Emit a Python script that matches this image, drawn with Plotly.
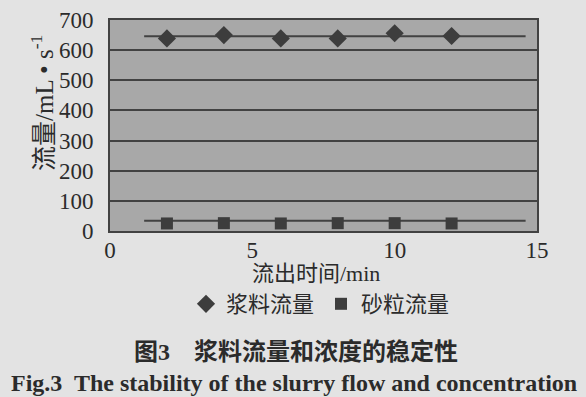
import plotly.graph_objects as go

# Data
time_min = [2, 4, 6, 8, 10, 12]
slurry_flow = [639, 650, 639, 639, 656, 647]
sand_flow = [25, 26, 25, 26, 26, 25]
trend_x = [1.2, 14.6]
slurry_trend = [646, 646]
sand_trend = [34, 34]
x_ticks = [0, 5, 10, 15]
y_ticks = [0, 100, 200, 300, 400, 500, 600, 700]

serif = "Liberation Serif, Times New Roman, Noto Sans CJK SC, serif"
txt = "#2b2b2b"
dark = "#424242"

W, H = 586, 397
ML, MR, MT, MB = 110, 49, 20, 166

fig = go.Figure()
fig.add_trace(go.Scatter(x=trend_x, y=slurry_trend, mode="lines",
                         line=dict(color=dark, width=2), showlegend=False, hoverinfo="skip"))
fig.add_trace(go.Scatter(x=trend_x, y=sand_trend, mode="lines",
                         line=dict(color=dark, width=2), showlegend=False, hoverinfo="skip"))
fig.add_trace(go.Scatter(x=time_min, y=slurry_flow, mode="markers", name="浆料流量",
                         marker=dict(symbol="diamond", size=14, color="#3d3d3d")))
fig.add_trace(go.Scatter(x=time_min, y=sand_flow, mode="markers", name="砂粒流量",
                         marker=dict(symbol="square", size=12, color="#3d3d3d")))


def px_x(x):
    return (x - ML) / (W - ML - MR)


def px_y(y):
    return (H - MB - y) / (H - MT - MB)


fig.update_layout(
    width=W, height=H,
    margin=dict(l=ML, r=MR, t=MT, b=MB, autoexpand=False),
    paper_bgcolor="#e3e3e3",
    plot_bgcolor="#a8a8a8",
    font=dict(family=serif, color=txt, size=20),
    legend=dict(orientation="h", x=px_x(186), xanchor="left", xref="paper",
                y=px_y(304), yref="paper", yanchor="middle",
                font=dict(size=22, family=serif, color=txt),
                bgcolor="rgba(0,0,0,0)", itemwidth=30, tracegroupgap=0,
                entrywidth=90, entrywidthmode="pixels"),
    showlegend=True,
)

fig.update_xaxes(range=[0, 15], tickvals=x_ticks, showgrid=False, zeroline=False,
                 showline=True, linecolor=dark, linewidth=2, mirror=True,
                 ticks="", tickfont=dict(size=23, family=serif, color=txt),
                 ticklabelstandoff=-3)
fig.update_yaxes(range=[0, 700], tickvals=y_ticks, showgrid=True, gridcolor=dark, gridwidth=1.8,
                 zeroline=False, showline=True, linecolor=dark, linewidth=2, mirror=True,
                 ticks="", tickfont=dict(size=23, family=serif, color=txt),
                 ticklabelstandoff=10)

annos = [
    dict(text="流出时间/min", x=316, y=273, size=22, bold=False),
    dict(text="图3　浆料流量和浓度的稳定性", x=296, y=352, size=24, bold=True),
    dict(text="Fig.3  The stability of the slurry flow and concentration", x=294, y=383, size=24, bold=True),
]
for a in annos:
    t = f"<b>{a['text']}</b>" if a["bold"] else a["text"]
    fig.add_annotation(text=t, xref="paper", yref="paper",
                       x=px_x(a["x"]), y=px_y(a["y"]),
                       xanchor="center", yanchor="middle", showarrow=False,
                       font=dict(size=a["size"], family=serif, color=txt))

fig.add_annotation(text="流量/mL • s<sup>-1</sup>", xref="paper", yref="paper",
                   x=px_x(42), y=px_y(103),
                   xanchor="center", yanchor="middle", showarrow=False, textangle=-90,
                   font=dict(size=25, family=serif, color=txt))

fig.write_html("out.html", config={"displayModeBar": False},
               post_script="document.body.style.margin='0';")
